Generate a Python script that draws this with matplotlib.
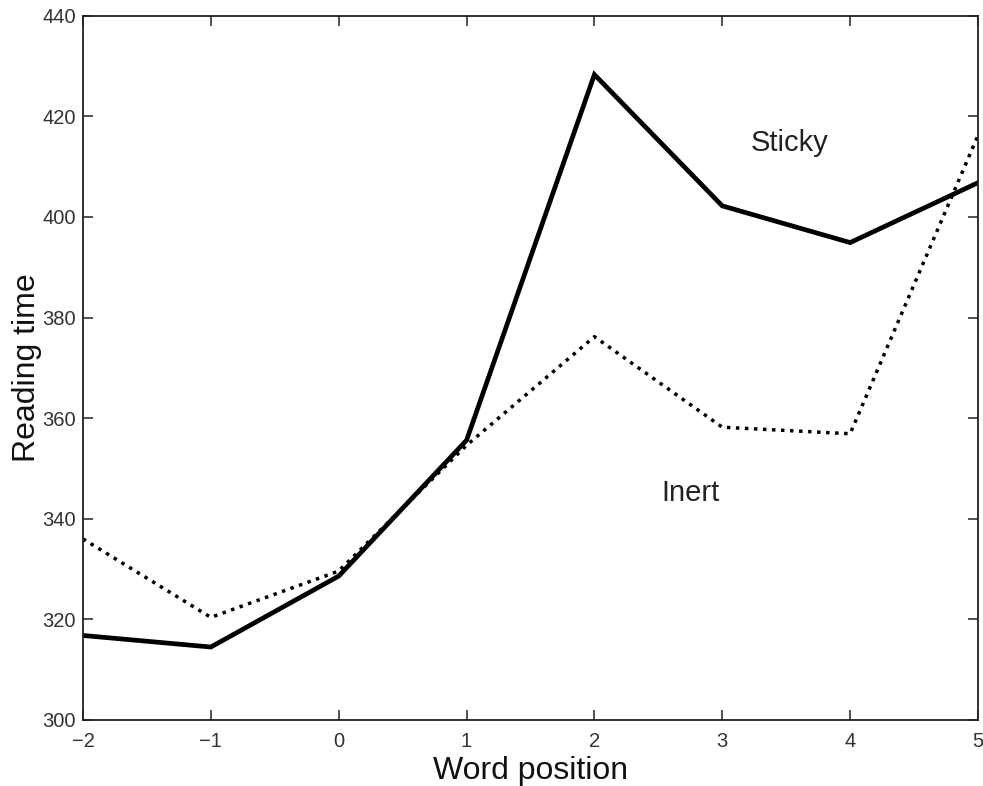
import numpy as np
import matplotlib
matplotlib.use("Agg")
import matplotlib.pyplot as plt

# Mean reading time per word position, relative to the critical word
positions = [-2, -1, 0, 1, 2, 3, 4, 5]
sticky = [316.8, 314.5, 328.6, 355.6, 428.3, 402.2, 394.9, 406.8]
inert = [336.0, 320.4, 329.6, 354.6, 376.2, 358.2, 356.9, 416.2]

plt.rcParams["font.family"] = ["Liberation Sans", "DejaVu Sans"]

fig = plt.figure(figsize=(9.83, 7.86), dpi=100)
ax = fig.add_axes([0.0844, 0.084, 0.9105, 0.896])

ax.plot(positions, sticky, color="black", lw=3.4, solid_joinstyle="miter")
ax.plot(positions, inert, color="black", lw=2.5, linestyle=(0, (1, 1.6)))

ax.text(3.53, 414.7, "Sticky", fontsize=21, ha="center", va="center",
        color="#222222")
ax.text(2.75, 345.1, "Inert", fontsize=21, ha="center", va="center",
        color="#222222")

ax.set_xlim(-2, 5)
ax.set_ylim(300, 440)
ax.set_xticks(np.arange(-2, 6, 1))
ax.set_yticks(np.arange(300, 441, 20))

ax.tick_params(direction="in", length=7, width=1.2, top=True, right=True,
               labelsize=14.5, colors="#333333")
ax.tick_params(axis="x", pad=9)
ax.tick_params(axis="y", pad=5)
for sp in ax.spines.values():
    sp.set_linewidth(1.3)
    sp.set_color("#222222")

ax.set_xlabel("Word position", fontsize=23, color="#111111", labelpad=3)
ax.set_ylabel("Reading time", fontsize=23, color="#111111", labelpad=0)

fig.savefig("out.png", dpi=100, facecolor="white")
